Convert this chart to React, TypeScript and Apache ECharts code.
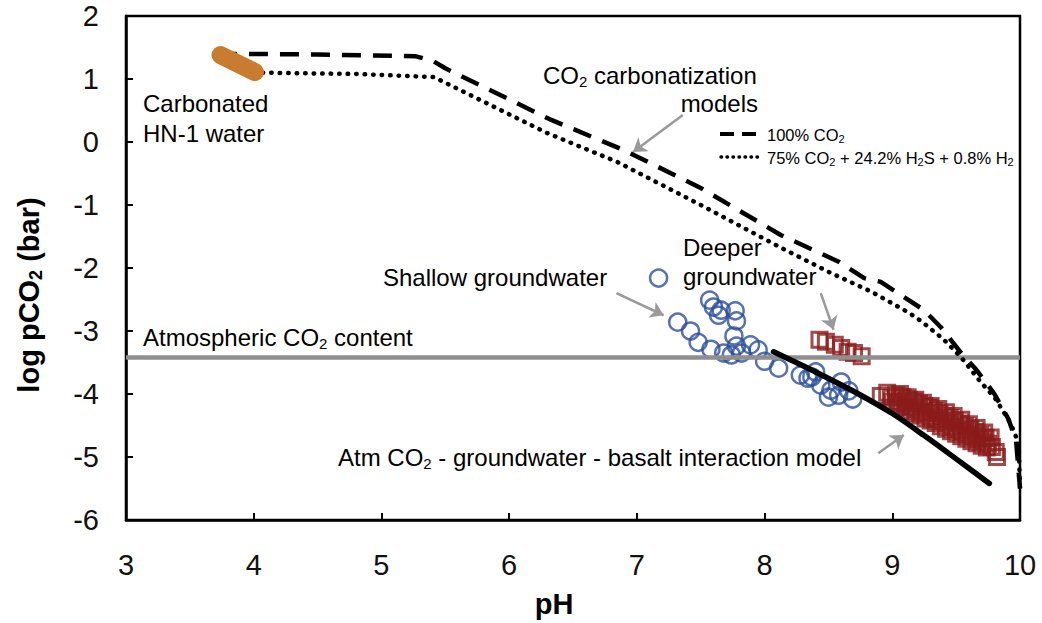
import React, { useEffect, useRef } from 'react';
import * as echarts from 'echarts';

const FONT = '"Liberation Sans", Arial, Helvetica, sans-serif';

// 100% CO2 carbonatization model (pH, log pCO2)
const co2Model: number[][] = [
  [3.72, 1.40], [4.5, 1.39], [5.27, 1.36], [5.40, 1.29], [5.50, 1.17], [6.33, 0.35],
  [6.90, -0.13], [7.50, -0.73], [8.13, -1.48], [8.58, -1.90], [8.78, -2.16], [8.91, -2.22],
  [9.09, -2.46], [9.25, -2.67], [9.38, -2.94], [9.54, -3.35], [9.66, -3.62], [9.80, -4.00],
  [9.91, -4.40], [9.97, -4.75], [10.0, -5.50],
];

// 75% CO2 + 24.2% H2S + 0.8% H2 model
const mixModel: number[][] = [
  [4.07, 1.10], [4.8, 1.08], [5.41, 1.03], [5.58, 0.86], [6.30, 0.14], [6.85, -0.32],
  [7.50, -1.00], [8.13, -1.68], [8.52, -2.08], [8.84, -2.38], [9.13, -2.71], [9.23, -2.85],
  [9.40, -3.13], [9.54, -3.42], [9.70, -3.83], [9.80, -4.05], [9.91, -4.41], [9.96, -4.62],
  [9.99, -4.84], [10.0, -5.50],
];

// Atm CO2 - groundwater - basalt interaction model
const basaltModel: number[][] = [
  [8.07, -3.33], [8.4, -3.65], [8.7, -3.96], [9.0, -4.31], [9.25, -4.66], [9.5, -5.03], [9.76, -5.42],
];

// Atmospheric CO2 content
const atmLevel: number[][] = [[3, -3.42], [10, -3.42]];

// Carbonated HN-1 water
const carbonated: number[][] = [[3.74, 1.38], [4.01, 1.11]];

// Shallow groundwater (circles)
const shallow: number[][] = [
  [7.17, -2.16], [7.32, -2.86], [7.42, -3.00], [7.48, -3.18], [7.58, -3.29], [7.68, -3.35],
  [7.57, -2.51], [7.60, -2.62], [7.66, -2.67], [7.64, -2.75], [7.77, -2.68], [7.78, -2.84],
  [7.76, -3.08], [7.78, -3.24], [7.74, -3.38], [7.82, -3.35], [7.89, -3.22], [7.95, -3.30],
  [8.00, -3.48], [8.11, -3.59], [8.28, -3.70], [8.34, -3.75], [8.40, -3.65], [8.44, -3.86],
  [8.52, -3.94], [8.60, -3.81], [8.58, -4.02], [8.66, -3.95], [8.69, -4.08], [8.50, -4.05],
  [8.37, -3.73],
];

// Deeper groundwater (squares)
const deeper: number[][] = [
  [8.43, -3.14], [8.48, -3.17], [8.55, -3.22], [8.60, -3.27], [8.65, -3.33], [8.70, -3.35], [8.76, -3.40],
  [8.91, -4.03], [8.96, -3.98], [8.99, -4.06], [9.03, -4.02], [9.05, -4.12], [9.08, -4.05],
  [9.10, -4.15], [9.13, -4.09], [9.15, -4.20], [9.17, -4.12], [9.19, -4.24], [9.21, -4.15],
  [9.23, -4.28], [9.25, -4.19], [9.27, -4.30], [9.29, -4.22], [9.31, -4.36], [9.33, -4.27],
  [9.35, -4.40], [9.37, -4.31], [9.39, -4.43], [9.41, -4.35], [9.43, -4.47], [9.45, -4.38],
  [9.47, -4.52], [9.49, -4.43], [9.51, -4.56], [9.53, -4.47], [9.55, -4.60], [9.57, -4.51],
  [9.59, -4.64], [9.61, -4.56], [9.63, -4.67], [9.65, -4.60], [9.67, -4.71], [9.69, -4.65],
  [9.71, -4.75], [9.73, -4.70], [9.75, -4.79], [9.78, -4.84], [9.81, -4.92], [9.82, -5.00],
  [9.00, -4.12], [9.04, -4.16], [9.07, -4.20], [9.11, -4.22], [9.14, -4.27], [9.18, -4.31],
  [9.22, -4.34], [9.26, -4.39], [9.30, -4.42], [9.34, -4.46], [9.38, -4.51], [9.42, -4.55],
  [9.46, -4.59], [9.50, -4.63], [9.54, -4.67], [9.58, -4.71], [9.62, -4.75], [9.66, -4.78],
  [9.70, -4.82], [9.74, -4.85],
  [9.06, -4.00], [9.12, -4.05], [9.18, -4.09], [9.24, -4.14], [9.30, -4.19], [9.36, -4.24],
  [9.42, -4.29], [9.48, -4.35], [9.54, -4.41], [9.60, -4.48], [9.66, -4.54], [9.72, -4.61],
  [9.77, -4.69],
];

// Annotation arrows (from, to)
const arrows: number[][][] = [
  [[7.36, 0.43], [6.97, -0.16]],
  [[6.84, -2.40], [7.21, -2.75]],
  [[8.44, -2.40], [8.54, -2.98]],
  [[8.89, -4.94], [9.09, -4.65]],
];

const rich = (size: number, sub: number, pad: number, weight: string = 'normal', color = '#1a1a1a') => ({
  n: { fontSize: size, fontFamily: FONT, color, fontWeight: weight, lineHeight: size + 4 },
  s: { fontSize: sub, fontFamily: FONT, color, fontWeight: weight, lineHeight: sub, padding: [pad, 0, 0, 0] },
});

const txt = (x: number, y: number, text: string, r: any, align = 'left', rotation = 0) => ({
  type: 'text',
  x,
  y,
  rotation,
  silent: true,
  style: {
    text,
    rich: r,
    align,
    verticalAlign: 'middle',
    textAlign: align,
    textVerticalAlign: 'middle',
  },
});

export default function App() {
  const ref = useRef<HTMLDivElement>(null);
  useEffect(() => {
    document.body.style.margin = '0';
    if (!ref.current) return;
    const chart = echarts.init(ref.current, undefined, { renderer: 'svg' });
    const r24 = rich(24, 15, 12);
    const r16 = rich(16.5, 11, 8, 'normal', '#111');
    const rTitle = rich(29, 18, 14, 'bold', '#000');
    chart.setOption({
      animation: false,
      backgroundColor: '#fff',
      textStyle: { fontFamily: FONT },
      grid: {
        left: 126, right: 22, top: 16, bottom: 103,
        containLabel: false, outerBoundsMode: 'none',
        show: true, borderColor: '#000', borderWidth: 2.5, backgroundColor: 'transparent',
      },
      xAxis: {
        type: 'value', min: 3, max: 10, interval: 1,
        axisLine: { show: true, onZero: false, lineStyle: { color: '#000', width: 2.5 } },
        axisTick: { show: true, inside: true, length: 7, lineStyle: { color: '#000', width: 2 } },
        axisLabel: { fontSize: 29, color: '#111', margin: 30, fontFamily: FONT },
        splitLine: { show: false },
      },
      yAxis: {
        type: 'value', min: -6, max: 2, interval: 1,
        axisLine: { show: true, onZero: false, lineStyle: { color: '#000', width: 2.5 } },
        axisTick: { show: true, inside: true, length: 7, lineStyle: { color: '#000', width: 2 } },
        axisLabel: { fontSize: 29, color: '#111', margin: 27, fontFamily: FONT },
        splitLine: { show: false },
      },
      series: [
        {
          type: 'line', data: atmLevel, symbol: 'none', silent: true,
          lineStyle: { color: '#8f8f8f', width: 4.5 },
        },
        {
          type: 'line', name: '100% CO2', data: co2Model, symbol: 'none', silent: true,
          lineStyle: { color: '#000', width: 4.5, type: [19, 12] },
        },
        {
          type: 'line', name: 'mix', data: mixModel, symbol: 'none', silent: true,
          lineStyle: { color: '#000', width: 4.5, type: [0.5, 8], cap: 'round' },
        },
        {
          type: 'line', data: basaltModel, symbol: 'none', silent: true, smooth: 0.3,
          lineStyle: { color: '#000', width: 5.5, cap: 'round' },
        },
        {
          type: 'scatter', data: shallow, symbol: 'circle', symbolSize: 17, silent: true,
          itemStyle: { color: 'rgba(0,0,0,0)', borderColor: '#2c4f9c', borderWidth: 2.5 },
        },
        {
          type: 'scatter', data: deeper, symbol: 'rect', symbolSize: 15, silent: true,
          itemStyle: { color: 'rgba(0,0,0,0)', borderColor: '#8b1c1c', borderWidth: 3 },
        },
        {
          type: 'line', data: carbonated, symbol: 'none', silent: true,
          lineStyle: { color: '#c97b2f', width: 18, cap: 'round' },
        },
        {
          type: 'lines', coordinateSystem: 'cartesian2d', silent: true,
          symbol: ['none', 'arrow'], symbolSize: [0, 13],
          lineStyle: { color: '#9a9a9a', width: 2.5, opacity: 1 },
          data: arrows.map((c) => ({ coords: c })),
        },
      ],
      graphic: [
        txt(143, 103, '{n|Carbonated}', r24),
        txt(143, 133, '{n|HN-1 water}', r24),
        txt(543, 75, '{n|CO}{s|2}{n| carbonatization}', r24),
        txt(758, 103, '{n|models}', r24, 'right'),
        txt(683, 247, '{n|Deeper}', r24),
        txt(683, 276, '{n|groundwater}', r24),
        txt(383, 277, '{n|Shallow groundwater}', r24),
        txt(143, 337, '{n|Atmospheric CO}{s|2}{n| content}', r24),
        txt(338, 457, '{n|Atm CO}{s|2}{n| - groundwater - basalt interaction model}', r24),
        {
          type: 'line', silent: true,
          shape: { x1: 720, y1: 134, x2: 756, y2: 134 },
          style: { stroke: '#000', lineWidth: 4, lineDash: [14, 8] },
        },
        {
          type: 'line', silent: true,
          shape: { x1: 721, y1: 157, x2: 763, y2: 157 },
          style: { stroke: '#000', lineWidth: 3.5, lineDash: [0.5, 5.5], lineCap: 'round' },
        },
        txt(767, 135, '{n|100% CO}{s|2}', r16),
        txt(767, 158, '{n|75% CO}{s|2}{n| + 24.2% H}{s|2}{n|S + 0.8% H}{s|2}', r16),
        txt(554, 604, '{n|pH}', rTitle, 'center'),
        txt(29, 295, '{n|log pCO}{s|2}{n| (bar)}', rTitle, 'center', Math.PI / 2),
      ],
    });
    return () => chart.dispose();
  }, []);
  return <div ref={ref} style={{ width: 1042, height: 623 }} />;
}
